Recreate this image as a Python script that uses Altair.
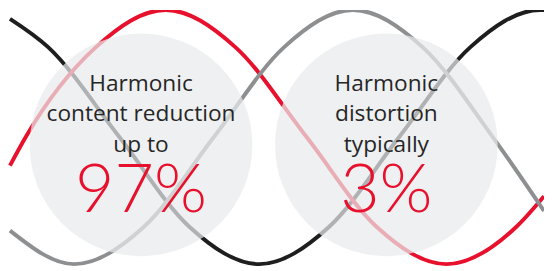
import altair as alt
import pandas as pd

# Wave points (reference pixel coordinates, y downward)
red_x = [10, 26, 97, 168, 239, 311, 382, 453, 524, 552]
red_y = [166, 137, 46, 8, 46, 137, 228, 266, 228, 197]
gray_x = [10, 75, 146, 217, 288, 358, 429, 500, 552]
gray_y = [232, 266, 228, 137, 46, 8, 46, 137, 212]
black_x = [10, 49, 121, 192, 263, 334, 405, 477, 548, 552]
black_y = [17, 46, 137, 228, 266, 228, 137, 46, 8, 8]

circle_x = [143, 392]
circle_y = [145, 145]

label_lines = ["Harmonic", "content reduction", "up to", "Harmonic", "distortion", "typically"]
label_x = [143, 143, 143, 392, 392, 392]
label_y = [83, 114, 145, 83, 114, 145]
big_text = ["97%", "3%"]
big_x = [143, 392]
big_y = [192, 192]

RED = "#E8112D"
BLACK = "#1E1E1E"
GRAY = "#8E8F91"

xs = alt.Scale(domain=[8, 552], nice=False, zero=False)
ys = alt.Scale(domain=[8, 271], nice=False, zero=False, reverse=True)

waves = pd.DataFrame(
    [{"x": x, "y": y, "wave": "black", "i": i} for i, (x, y) in enumerate(zip(black_x, black_y))]
    + [{"x": x, "y": y, "wave": "red", "i": i} for i, (x, y) in enumerate(zip(red_x, red_y))]
    + [{"x": x, "y": y, "wave": "gray", "i": i} for i, (x, y) in enumerate(zip(gray_x, gray_y))]
)

lines = alt.Chart(waves).mark_line(strokeWidth=4, interpolate="monotone", clip=True, strokeCap="butt").encode(
    x=alt.X("x:Q", scale=xs, axis=None),
    y=alt.Y("y:Q", scale=ys, axis=None),
    order="i:Q",
    color=alt.Color("wave:N", scale=alt.Scale(domain=["black", "red", "gray"], range=[BLACK, RED, GRAY]), legend=None),
)

circ_df = pd.DataFrame({"x": circle_x, "y": circle_y})
circles = alt.Chart(circ_df).mark_circle(size=51076, color="#E9EAEC", opacity=0.72).encode(
    x=alt.X("x:Q", scale=xs, axis=None),
    y=alt.Y("y:Q", scale=ys, axis=None),
)

lab_df = pd.DataFrame({"t": label_lines, "x": label_x, "y": label_y})
labels = alt.Chart(lab_df).mark_text(font="Open Sans", fontSize=23, color="#262626", baseline="middle", align="center").encode(
    x=alt.X("x:Q", scale=xs, axis=None),
    y=alt.Y("y:Q", scale=ys, axis=None),
    text="t:N",
)

big_df = pd.DataFrame({"t": big_text, "x": big_x, "y": big_y})
bigs = alt.Chart(big_df).mark_text(font="Lato", fontSize=69, fontWeight=300, color=RED, baseline="middle", align="center").encode(
    x=alt.X("x:Q", scale=xs, axis=None),
    y=alt.Y("y:Q", scale=ys, axis=None),
    text="t:N",
)

chart = alt.layer(lines, circles, labels, bigs).properties(
    width=544, height=263, padding=0, autosize=alt.AutoSizeParams(type="none")
).configure(background="white").configure_view(stroke=None)

chart.save("out.html", embed_options={"renderer": "svg", "actions": False})
